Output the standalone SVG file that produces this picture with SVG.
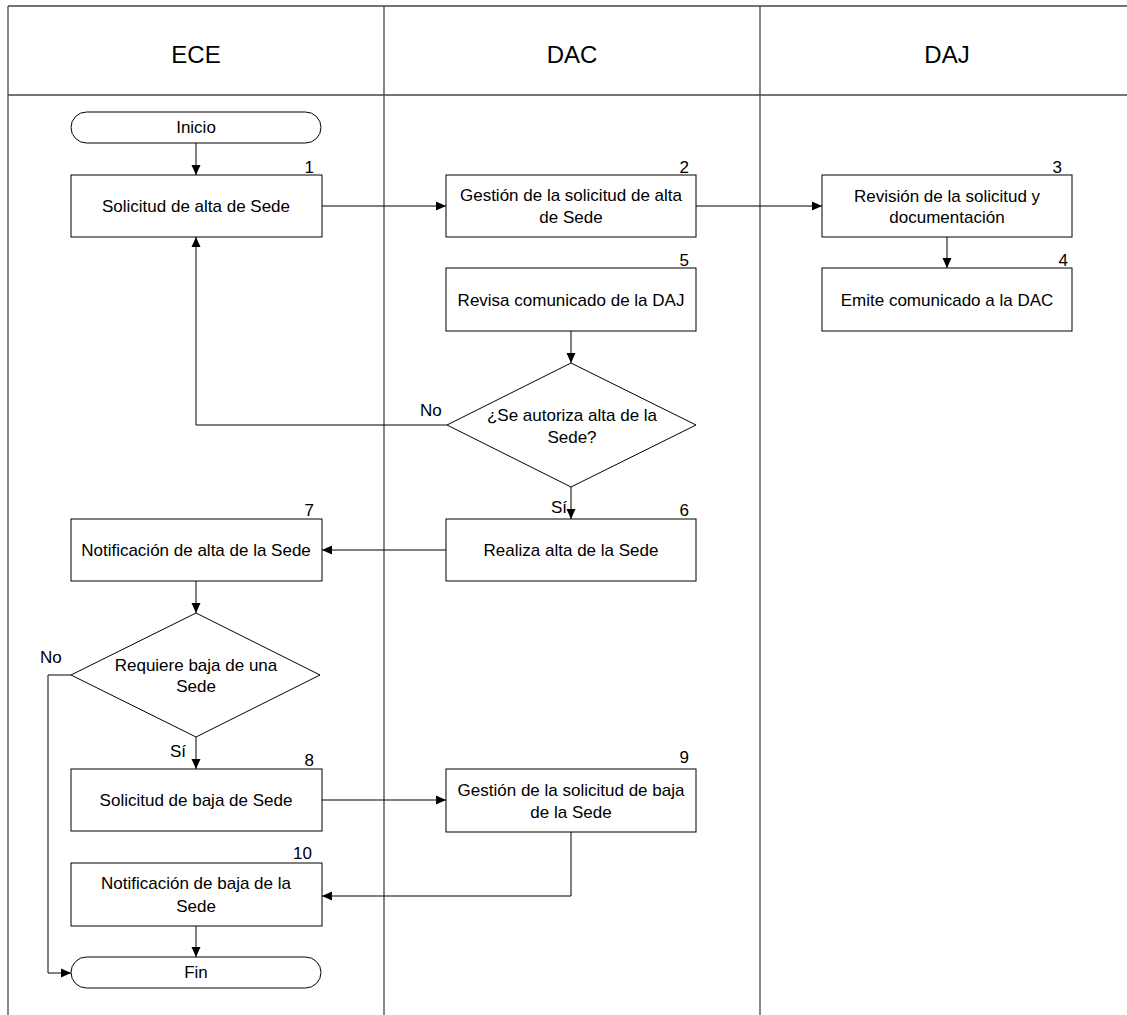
<svg xmlns="http://www.w3.org/2000/svg" width="1127" height="1015" viewBox="0 0 1127 1015">
<style>
.frame{stroke:#444;stroke-width:1.3;fill:none}
.node{fill:#fff;stroke:#000;stroke-width:1}
.t{font-family:"Liberation Sans",Arial,sans-serif;font-size:17px;fill:#000;text-anchor:middle}
.n{font-family:"Liberation Sans",Arial,sans-serif;font-size:17px;fill:#000;text-anchor:end}
.h{font-family:"Liberation Sans",Arial,sans-serif;font-size:24px;fill:#000;text-anchor:middle}
.l{font-family:"Liberation Sans",Arial,sans-serif;font-size:17px;fill:#000}
.c{stroke:#000;stroke-width:1;fill:none}
</style>
<defs>
<marker id="ah" viewBox="0 0 10 10" refX="10" refY="5" markerWidth="10" markerHeight="10" markerUnits="userSpaceOnUse" orient="auto">
<path d="M0,0.5 L10,5 L0,9.5 Z" fill="#000"/>
</marker>
</defs>
<rect width="1127" height="1015" fill="#fff"/>
<g id="lanes">
<line class="frame" x1="8" y1="6" x2="1127" y2="6"/>
<line class="frame" x1="8" y1="95" x2="1127" y2="95"/>
<line class="frame" x1="8" y1="6" x2="8" y2="1015"/>
<line class="frame" x1="384" y1="6" x2="384" y2="1015"/>
<line class="frame" x1="760" y1="6" x2="760" y2="1015"/>
<text class="h" x="196" y="63">ECE</text>
<text class="h" x="572" y="63">DAC</text>
<text class="h" x="947" y="63">DAJ</text>
</g>
<g id="connectors">
<path class="c" d="M196,143 V175" marker-end="url(#ah)"/>
<path class="c" d="M322,206 H446" marker-end="url(#ah)"/>
<path class="c" d="M696,206 H822" marker-end="url(#ah)"/>
<path class="c" d="M947,237 V268" marker-end="url(#ah)"/>
<path class="c" d="M571,331 V363" marker-end="url(#ah)"/>
<path class="c" d="M447,425 H196 V237" marker-end="url(#ah)"/>
<path class="c" d="M571,487 V519" marker-end="url(#ah)"/>
<path class="c" d="M446,550 H322" marker-end="url(#ah)"/>
<path class="c" d="M196,581 V613" marker-end="url(#ah)"/>
<path class="c" d="M71,675 H48 V973 H71" marker-end="url(#ah)"/>
<path class="c" d="M196,737 V769" marker-end="url(#ah)"/>
<path class="c" d="M322,800 H446" marker-end="url(#ah)"/>
<path class="c" d="M571,832 V896 H322" marker-end="url(#ah)"/>
<path class="c" d="M196,926 V957" marker-end="url(#ah)"/>
<text class="l" x="420" y="416">No</text>
<text class="l" x="551" y="513">Sí</text>
<text class="l" x="40" y="663">No</text>
<text class="l" x="170" y="757">Sí</text>
</g>
<g id="inicio"><rect class="node" x="71" y="112" width="250" height="31" rx="15.5"/><text class="t" x="196" y="133">Inicio</text></g>
<g id="n1"><rect class="node" x="71" y="175" width="251" height="62"/><text class="t" x="196" y="212">Solicitud de alta de Sede</text><text class="n" x="314" y="173">1</text></g>
<g id="n2"><rect class="node" x="446" y="175" width="250" height="62"/><text class="t" x="571" y="201">Gestión de la solicitud de alta</text><text class="t" x="571" y="223">de Sede</text><text class="n" x="689" y="173">2</text></g>
<g id="n3"><rect class="node" x="822" y="175" width="250" height="62"/><text class="t" x="947" y="202">Revisión de la solicitud y</text><text class="t" x="947" y="223">documentación</text><text class="n" x="1062" y="173">3</text></g>
<g id="n4"><rect class="node" x="822" y="268" width="250" height="63"/><text class="t" x="947" y="306">Emite comunicado a la DAC</text><text class="n" x="1068" y="266">4</text></g>
<g id="n5"><rect class="node" x="446" y="268" width="250" height="63"/><text class="t" x="571" y="306">Revisa comunicado de la DAJ</text><text class="n" x="689" y="266">5</text></g>
<g id="d1"><polygon class="node" points="571,363 696,425 571,487 447,425"/><text class="t" x="572" y="421">¿Se autoriza alta de la</text><text class="t" x="572" y="443">Sede?</text></g>
<g id="n6"><rect class="node" x="446" y="519" width="250" height="62"/><text class="t" x="571" y="556">Realiza alta de la Sede</text><text class="n" x="689" y="516">6</text></g>
<g id="n7"><rect class="node" x="71" y="519" width="251" height="62"/><text class="t" x="196" y="556">Notificación de alta de la Sede</text><text class="n" x="314" y="516">7</text></g>
<g id="d2"><polygon class="node" points="196,613 320,675 196,737 71,675"/><text class="t" x="196" y="671">Requiere baja de una</text><text class="t" x="196" y="692">Sede</text></g>
<g id="n8"><rect class="node" x="71" y="769" width="251" height="62"/><text class="t" x="196" y="806">Solicitud de baja de Sede</text><text class="n" x="314" y="766">8</text></g>
<g id="n9"><rect class="node" x="446" y="769" width="250" height="63"/><text class="t" x="571" y="796">Gestión de la solicitud de baja</text><text class="t" x="571" y="818">de la Sede</text><text class="n" x="689" y="763">9</text></g>
<g id="n10"><rect class="node" x="71" y="863" width="251" height="63"/><text class="t" x="196" y="889">Notificación de baja de la</text><text class="t" x="196" y="912">Sede</text><text class="n" x="312" y="859">10</text></g>
<g id="fin"><rect class="node" x="71" y="957" width="250" height="31" rx="15.5"/><text class="t" x="196" y="978">Fin</text></g>
</svg>
